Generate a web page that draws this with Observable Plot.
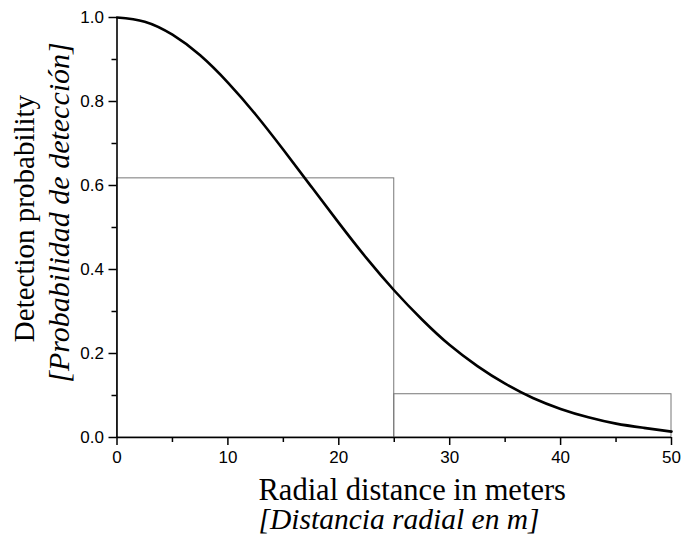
<!DOCTYPE html>
<html>
<head>
<meta charset="utf-8">
<script src="https://cdn.jsdelivr.net/npm/d3@7"></script>
<script src="https://cdn.jsdelivr.net/npm/@observablehq/plot@0.6"></script>
<style>
  html, body { margin: 0; padding: 0; background: #fff; }
</style>
</head>
<body>
<div id="chart"></div>
<script>
// Detection curve values (every 2.5 m)
const distance = [0, 2.5, 5, 7.5, 10, 12.5, 15, 17.5, 20, 22.5, 25, 27.5, 30, 32.5, 35, 37.5, 40, 42.5, 45, 47.5, 50];
const probability = [1.000, 0.990, 0.959, 0.910, 0.845, 0.769, 0.685, 0.598, 0.511, 0.427, 0.350, 0.281, 0.220, 0.170, 0.128, 0.094, 0.068, 0.048, 0.033, 0.023, 0.014];

// Histogram bins
const binStart = [0, 25];
const binEnd = [25, 50];
const binHeight = [0.617, 0.103];

// Ticks
const xTicks = [0, 10, 20, 30, 40, 50];
const xMinorTicks = [5, 15, 25, 35, 45];
const yTicks = [0, 0.2, 0.4, 0.6, 0.8, 1.0];
const yMinorTicks = [0.1, 0.3, 0.5, 0.7, 0.9];

// Labels
const yLabel = "Detection probability";
const yLabelEs = "[Probabilidad de detección]";
const xLabel = "Radial distance in meters";
const xLabelEs = "[Distancia radial en m]";

const curve = distance.map((d, i) => ({distance: d, probability: probability[i]}));
const bins = binStart.map((s, i) => ({x1: s, x2: binEnd[i], y: binHeight[i]}));

const serif = "'Liberation Serif', 'Times New Roman', serif";
const sans = "'Liberation Sans', Arial, sans-serif";

const chart = Plot.plot({
  width: 681,
  height: 543,
  marginLeft: 116.5,
  marginRight: 10,
  marginTop: 17,
  marginBottom: 106,
  style: {fontFamily: sans, fontSize: "17px", background: "#fff", color: "#000"},
  x: {domain: [0, 50]},
  y: {domain: [0, 1]},
  marks: [
    Plot.rect(bins, {x1: "x1", x2: "x2", y1: 0, y2: "y", fill: "none", stroke: "#777", strokeWidth: 1}),
    Plot.ruleY([0], {x1: 0, x2: 50, stroke: "#000", strokeWidth: 1.6}),
    Plot.ruleX([0], {y1: 0, y2: 1, stroke: "#000", strokeWidth: 1.6}),
    Plot.axisX({ticks: xTicks, tickSize: 8, tickPadding: 5, strokeWidth: 1.5, tickFormat: d3.format("d"), fontSize: 17, label: null}),
    Plot.axisX({ticks: xMinorTicks, tickSize: 5, strokeWidth: 1.5, tickFormat: () => "", label: null}),
    Plot.axisY({ticks: yTicks, tickSize: 8, tickPadding: 5, strokeWidth: 1.5, tickFormat: d3.format(".1f"), fontSize: 17, label: null}),
    Plot.axisY({ticks: yMinorTicks, tickSize: 5, strokeWidth: 1.5, tickFormat: () => "", label: null}),
    Plot.line(curve, {x: "distance", y: "probability", curve: "natural", stroke: "#000", strokeWidth: 2.6}),
    Plot.text([yLabel], {text: d => d, frameAnchor: "left", rotate: -90, textAnchor: "middle", lineAnchor: "bottom", dx: -83.5, dy: -9, fontFamily: serif, fontSize: 29, fill: "#000"}),
    Plot.text([yLabelEs], {text: d => d, frameAnchor: "left", rotate: -90, textAnchor: "middle", lineAnchor: "bottom", dx: -48.5, dy: -15, fontFamily: serif, fontStyle: "italic", fontSize: 30, fill: "#000"}),
    Plot.text([xLabel], {text: d => d, frameAnchor: "bottom-left", textAnchor: "start", lineAnchor: "bottom", dx: 141.5, dy: 62, fontFamily: serif, fontSize: 30.5, fill: "#000"}),
    Plot.text([xLabelEs], {text: d => d, frameAnchor: "bottom-left", textAnchor: "start", lineAnchor: "bottom", dx: 141.5, dy: 91, fontFamily: serif, fontStyle: "italic", fontSize: 29.5, fill: "#000"})
  ]
});
document.getElementById("chart").appendChild(chart);
</script>
</body>
</html>
